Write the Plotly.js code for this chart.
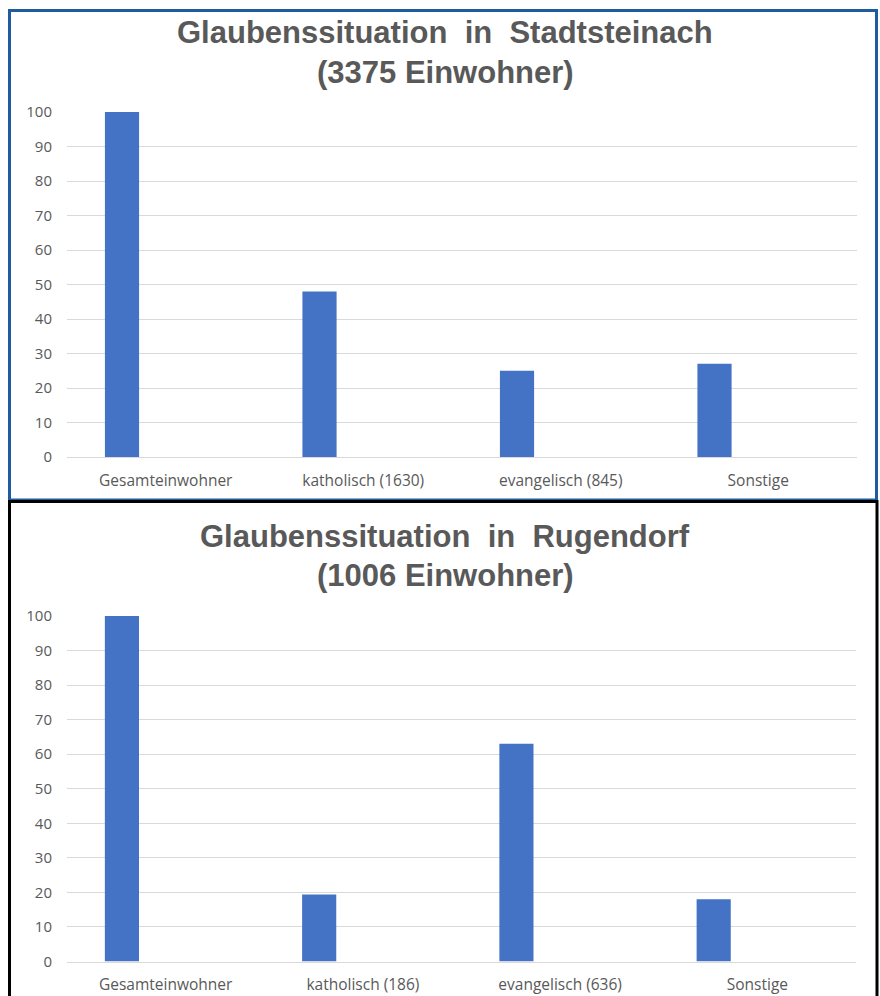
<!DOCTYPE html>
<html>
<head>
<meta charset="utf-8">
<script src="https://cdn.plot.ly/plotly-3.0.1.min.js"></script>
<style>html,body{margin:0;padding:0;background:#fff;}#chart{width:880px;height:996px;}</style>
</head>
<body>
<div id="chart"></div>
<script>
// Data
const categoriesTop = ["Gesamteinwohner", "katholisch (1630)", "evangelisch (845)", "Sonstige"];
const valuesTop = [100, 48, 25, 27];
const categoriesBottom = ["Gesamteinwohner", "katholisch (186)", "evangelisch (636)", "Sonstige"];
const valuesBottom = [100, 19.4, 63, 18];
const titleTop = ["Glaubenssituation  in  Stadtsteinach", "(3375 Einwohner)"];
const titleBottom = ["Glaubenssituation  in  Rugendorf", "(1006 Einwohner)"];
const yTicks = [0, 10, 20, 30, 40, 50, 60, 70, 80, 90, 100];

const W = 880, H = 996;
const px = v => v / W;
const py = v => 1 - v / H;

const barColor = "#4472c4";
const textGray = "#595959";
const gridColor = "#d9d9d9";

function barTrace(cats, vals, xa, ya) {
  return {
    type: "bar",
    x: cats,
    y: vals,
    xaxis: xa,
    yaxis: ya,
    width: 0.173,
    offset: -0.308,
    marker: {color: barColor, line: {width: 0}},
    hoverinfo: "x+y",
    showlegend: false
  };
}

const data = [
  barTrace(categoriesTop, valuesTop, "x", "y"),
  barTrace(categoriesBottom, valuesBottom, "x2", "y2")
];

function xAxis(domain, anchor) {
  return {
    domain: domain,
    anchor: anchor,
    type: "category",
    range: [-0.5, 3.5],
    showgrid: false,
    showline: true,
    linecolor: gridColor,
    linewidth: 1,
    ticks: "",
    ticklabelstandoff: 9,
    tickfont: {family: "Open Sans, sans-serif", size: 15.5, color: textGray},
    zeroline: false,
    fixedrange: true
  };
}
function yAxis(domain, anchor) {
  return {
    domain: domain,
    anchor: anchor,
    range: [0, 100],
    tickvals: yTicks,
    showgrid: true,
    gridcolor: gridColor,
    gridwidth: 1,
    showline: false,
    zeroline: false,
    ticks: "",
    ticklabelstandoff: 14,
    tickfont: {family: "Open Sans, sans-serif", size: 15, color: textGray},
    fixedrange: true
  };
}

const titleFont = {family: "Liberation Sans, Arial, sans-serif", size: 31, color: textGray, weight: "bold"};
function titleAnn(text, y) {
  return {
    text: "<b>" + text + "</b>",
    xref: "paper", yref: "paper",
    x: px(445), y: py(y),
    xanchor: "center", yanchor: "middle",
    showarrow: false,
    font: titleFont
  };
}

const layout = {
  width: W,
  height: H,
  margin: {l: 0, r: 0, t: 0, b: 0},
  paper_bgcolor: "#ffffff",
  plot_bgcolor: "#ffffff",
  xaxis: xAxis([px(67), px(857)], "y"),
  yaxis: yAxis([py(457), py(112)], "x"),
  xaxis2: xAxis([px(67), px(856)], "y2"),
  yaxis2: yAxis([py(961.5), py(616)], "x2"),
  annotations: [
    titleAnn(titleTop[0], 33),
    titleAnn(titleTop[1], 72),
    titleAnn(titleBottom[0], 536),
    titleAnn(titleBottom[1], 575)
  ],
  shapes: [
    {type: "rect", xref: "paper", yref: "paper",
     x0: px(9.5), x1: px(876.5), y0: py(500), y1: py(10.5),
     line: {color: "#1f5c9e", width: 3}, fillcolor: "rgba(0,0,0,0)"},
    {type: "rect", xref: "paper", yref: "paper",
     x0: px(9.5), x1: px(877), y0: py(1010), y1: py(501.5),
     line: {color: "#000000", width: 3}, fillcolor: "rgba(0,0,0,0)"}
  ]
};

Plotly.newPlot("chart", data, layout, {staticPlot: true, displayModeBar: false});
</script>
</body>
</html>
